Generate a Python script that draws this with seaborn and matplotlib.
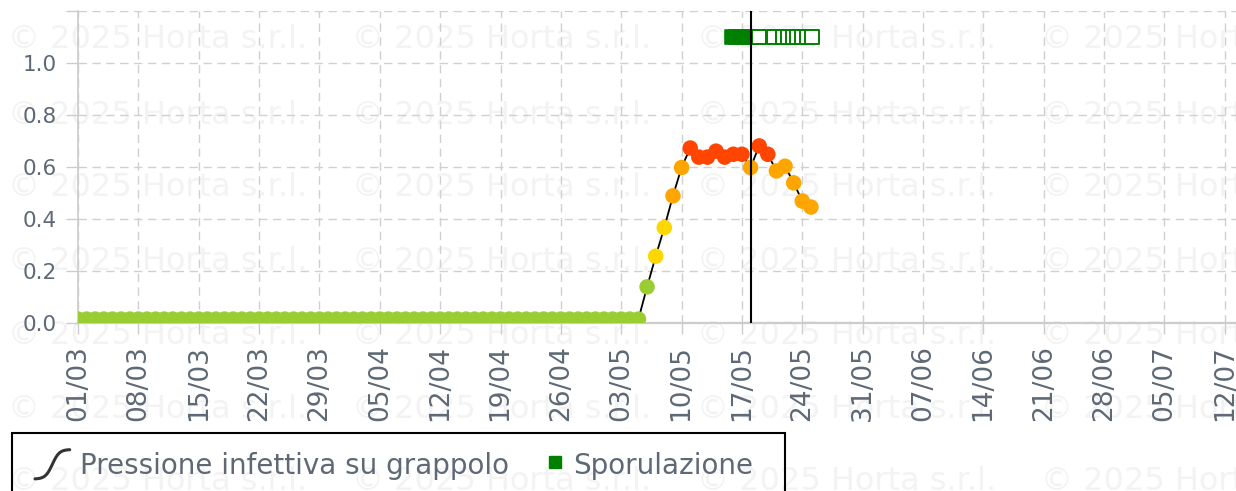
import numpy as np
import pandas as pd
import matplotlib
matplotlib.use('Agg')
import matplotlib.pyplot as plt
import matplotlib.dates as mdates
from matplotlib.lines import Line2D
from matplotlib.patches import Rectangle
from matplotlib.legend_handler import HandlerBase
import seaborn as sns

sns.set_style('white')
plt.rcParams['font.family'] = ['DejaVu Sans']

########## data ##########
start_day = '2025-03-01'
# 01/03 .. 05/05 : the curve sits just above zero
flat_values = [0.015] * 66
# 06/05 .. 25/05
rise_values = [0.139, 0.257, 0.367, 0.489, 0.598, 0.673, 0.638, 0.638, 0.661, 0.638,
               0.649, 0.649, 0.598, 0.681, 0.649, 0.585, 0.603, 0.539, 0.469, 0.446]
pressure = flat_values + rise_values

level_bins = [-1, 0.2, 0.4, 0.62, 2]
level_names = ['basso', 'medio', 'alto', 'molto alto']
level_colors = ['#9acd32', '#ffd700', '#ffa500', '#ff4500']

spor_level = 1.1
spor_past = ['2025-05-15 19:00', '2025-05-16 07:00', '2025-05-16 19:00',
             '2025-05-17 07:00', '2025-05-17 19:00']
spor_forecast = ['2025-05-19 00:00', '2025-05-20 17:00', '2025-05-21 19:00',
                 '2025-05-22 07:00', '2025-05-22 22:00', '2025-05-23 10:00',
                 '2025-05-24 00:00', '2025-05-24 12:00', '2025-05-25 02:00']

today = '2025-05-18'
tick_start, tick_end = '2025-03-01', '2025-07-12'
y_ticks = [0.0, 0.2, 0.4, 0.6, 0.8, 1.0, 1.2]

legend_labels = ['Pressione infettiva su grappolo', 'Sporulazione']
watermark = '\u00a9 2025 Horta s.r.l.'

########## build frames ##########
df = pd.DataFrame({'date': pd.date_range(start_day, periods=len(pressure), freq='D'),
                   'value': pressure})
df['level'] = pd.cut(df['value'], bins=level_bins, labels=level_names).astype(str)
palette = dict(zip(level_names, level_colors))

sp_past = pd.DataFrame({'date': pd.to_datetime(spor_past), 'value': spor_level})
sp_fc = pd.DataFrame({'date': pd.to_datetime(spor_forecast), 'value': spor_level})

########## figure ##########
W, H = 1236, 491
fig = plt.figure(figsize=(W / 100, H / 100), dpi=100)
ax = fig.add_axes([78 / W, 1 - 323 / H, 1 - 78 / W, (323 - 11) / H])
ax.patch.set_visible(False)

# watermark behind everything
for ry in [40, 115, 188, 262, 336, 409, 482]:
    for rx in [8, 352, 697, 1041]:
        fig.text(rx / W, 1 - ry / H, watermark, fontsize=23, color='#f3f3f3',
                 ha='left', va='center', zorder=-5)

sns.lineplot(data=df, x='date', y='value', color='black', lw=1.3, ax=ax, zorder=2)
sns.scatterplot(data=df, x='date', y='value', hue='level', palette=palette,
                s=125, linewidth=0, legend=False, ax=ax, zorder=3)

sns.scatterplot(data=sp_past, x='date', y='value', marker='s', s=115,
                color='#008000', edgecolor='#008000', linewidth=1.2, ax=ax, zorder=4)
sns.scatterplot(data=sp_fc, x='date', y='value', marker='s', s=115,
                facecolor='white', edgecolor='#008000', linewidth=1.4, ax=ax, zorder=4)

ax.axvline(pd.Timestamp(today), color='black', lw=1.5, zorder=5)

# axes styling
x0 = pd.Timestamp(start_day)
ax.set_xlim(x0, x0 + pd.Timedelta(days=134.3))
ax.set_ylim(0, 1.2)
ax.set_xticks(pd.date_range(tick_start, tick_end, freq='7D'))
ax.xaxis.set_major_formatter(mdates.DateFormatter('%d/%m'))
ax.set_yticks(y_ticks)
ax.set_yticklabels(['%.1f' % v if v < 1.15 else '' for v in y_ticks])
ax.set_xlabel('')
ax.set_ylabel('')

ax.grid(True, ls=(0, (6, 4)), color='#d0d0d0', lw=1.0)
for s in ['top', 'right']:
    ax.spines[s].set_visible(False)
ax.spines['left'].set_color('#cccccc')
ax.spines['left'].set_linewidth(1.2)
ax.spines['bottom'].set_color('#cccccc')
ax.spines['bottom'].set_linewidth(1.6)

lab_col = '#5e6975'
ax.tick_params(axis='x', labelrotation=90, labelsize=19, colors=lab_col,
               length=8, width=1, color='#cccccc', pad=8, bottom=True)
ax.tick_params(axis='y', labelsize=15.5, colors=lab_col, length=9, width=1,
               color='#cccccc', pad=6, left=True)


########## legend ##########
class SCurve(HandlerBase):
    def create_artists(self, legend, orig_handle, xdescent, ydescent,
                       width, height, fontsize, trans):
        t = np.linspace(0, 1, 40)
        xs = -xdescent + width * t
        ys = -ydescent + height * (0.5 + 0.75 * np.tanh((t - 0.5) * 5) / np.tanh(2.5))
        ln = Line2D(xs, ys, color='#333333', lw=2.2, transform=trans)
        return [ln]


class RightSquare(HandlerBase):
    def create_artists(self, legend, orig_handle, xdescent, ydescent,
                       width, height, fontsize, trans):
        ln = Line2D([-xdescent + width - 6], [-ydescent + height / 2 + 2], marker='s',
                    ms=8, color='#008000', ls='', transform=trans)
        return [ln]


h1 = Line2D([], [], color='#333333')
h2 = Line2D([], [], marker='s', color='#008000', ls='')
fig.patches.append(Rectangle((12 / W, 1 - 505 / H), (785 - 12) / W, (505 - 433) / H,
                             transform=fig.transFigure, fill=False,
                             edgecolor='black', lw=1.5, zorder=10))
leg = fig.legend([h1, h2], legend_labels, loc='center left',
                 bbox_to_anchor=(35 / W, 1 - 466 / H), ncol=2, frameon=False,
                 fontsize=20, borderpad=0, borderaxespad=0, handlelength=1.25,
                 handletextpad=0.36, columnspacing=0.7,
                 handler_map={h1: SCurve(), h2: RightSquare()})
for t in leg.get_texts():
    t.set_color(lab_col)

fig.savefig('out.png', dpi=100)
